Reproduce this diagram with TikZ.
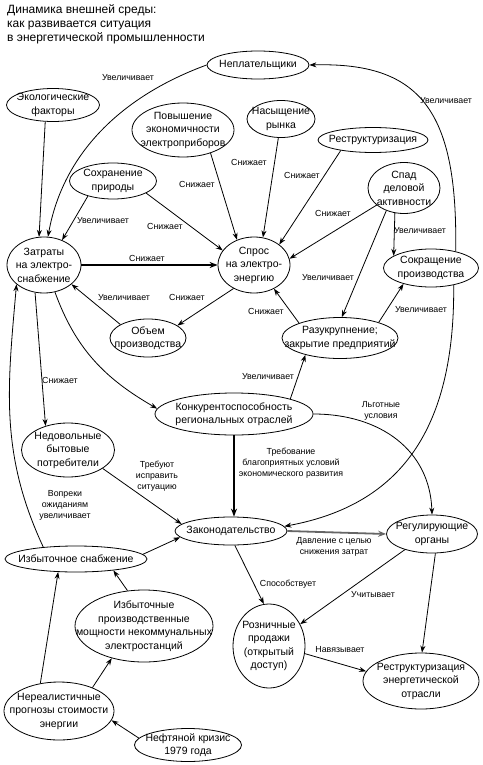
\documentclass[tikz,border=0pt]{standalone}
\usepackage{fontspec}
\setmainfont{Liberation Sans}
\usetikzlibrary{arrows.meta,shapes.geometric}
\begin{document}
\begin{tikzpicture}[x=1pt,y=-1pt,
  ell/.style={draw, ellipse, line width=0.8pt, inner sep=0pt},
  ntext/.style={font=\fontsize{10.5}{13.5}\selectfont, align=center, inner sep=0pt},
  lbl/.style={font=\fontsize{8.8}{11}\selectfont, align=center, inner sep=0pt},
  ttl/.style={font=\fontsize{12}{14}\selectfont, align=left, inner sep=0pt, anchor=north west},
  arr/.style={-{Stealth[length=7pt,width=5pt]}, line width=0.8pt},
  thk/.style={-{Stealth[length=8pt,width=6pt]}, line width=1.8pt},
]
\fill[white] (0,0) rectangle (482,765);
\useasboundingbox (0,0) rectangle (482,765);

\node[ttl] (title) at (7,4) {Динамика внешней среды:\\как развивается ситуация\\в энергетической промышленности};

% nodes
\node[ell, minimum width=102, minimum height=28, label={[ntext]center:Неплательщики}] (nepl) at (258,65) {};
\node[ell, minimum width=93, minimum height=33, label={[ntext]center:{Экологические\\факторы}}] (eco) at (53,105) {};
\node[ell, minimum width=102, minimum height=54, label={[ntext]center:{Повышение\\экономичности\\электроприборов}}] (povysh) at (183,130) {};
\node[ell, minimum width=68, minimum height=37, label={[ntext]center:{Насыщение\\рынка}}] (nasysh) at (281,119) {};
\node[ell, minimum width=110, minimum height=25, label={[ntext]center:Реструктуризация}] (restr) at (373,140) {};
\node[ell, minimum width=87, minimum height=36, label={[ntext]center:{Сохранение\\природы}}] (sohr) at (113,181) {};
\node[ell, minimum width=72, minimum height=51, label={[ntext]center:{Спад\\деловой\\активности}}] (spad) at (404,188) {};
\node[ell, minimum width=74, minimum height=56, label={[ntext]center:{Затраты\\на электро-\\снабжение}}] (zatr) at (44,265) {};
\node[ell, minimum width=72, minimum height=56, label={[ntext]center:{Спрос\\на электро-\\энергию}}] (spros) at (254,265) {};
\node[ell, minimum width=95, minimum height=38, label={[ntext]center:{Сокращение\\производства}}] (sokr) at (431,268) {};
\node[ell, minimum width=76, minimum height=38, label={[ntext]center:{Объем\\производства}}] (obem) at (148,338) {};
\node[ell, minimum width=116, minimum height=41, label={[ntext]center:{Разукрупнение;\\закрытие предприятий}}] (razuk) at (340,338) {};
\node[ell, minimum width=158, minimum height=42, label={[ntext]center:{Конкурентоспособность\\региональных отраслей}}] (konk) at (234,414) {};
\node[ell, minimum width=93, minimum height=54, label={[ntext]center:{Недовольные\\бытовые\\потребители}}] (nedov) at (68,450) {};
\node[ell, minimum width=112, minimum height=28, label={[ntext]center:Законодательство}] (zakon) at (231,531) {};
\node[ell, minimum width=91, minimum height=38, label={[ntext]center:{Регулирующие\\органы}}] (regul) at (432,534) {};
\node[ell, minimum width=142, minimum height=26, label={[ntext]center:Избыточное снабжение}] (izbsn) at (76,559) {};
\node[ell, minimum width=138, minimum height=72, label={[ntext]center:{Избыточные\\производственные\\мощности некоммунальных\\электростанций}}] (izbmosh) at (144,626) {};
\node[ell, minimum width=72, minimum height=84, label={[ntext]center:{Розничные\\продажи\\(открытый\\доступ)}}] (rozn) at (269,646) {};
\node[ell, minimum width=116, minimum height=56, label={[ntext]center:{Реструктуризация\\энергетической\\отрасли}}] (restren) at (421,681) {};
\node[ell, minimum width=110, minimum height=58, label={[ntext]center:{Нереалистичные\\прогнозы стоимости\\энергии}}] (nereal) at (59,711) {};
\node[ell, minimum width=107, minimum height=33, label={[ntext]center:{Нефтяной кризис\\1979 года}}] (neft) at (188,745) {};

% connectors
\draw[arr] (nepl.west) .. controls (122,96) and (63,153) .. (zatr.82)
  node[lbl, at={(128,78)}] (l1) {Увеличивает};
\draw[arr] (eco.245) -- (zatr.100);
\draw[arr] (sohr.211) -- (zatr.54) node[lbl, at={(103,221)}] (l2) {Увеличивает};
\draw[arr] (sohr.-20) -- (spros.155) node[lbl, at={(165,226)}] (l3) {Снижает};
\draw[arr] (povysh.-40) -- (spros.124) node[lbl, at={(197,184)}] (l4) {Снижает};
\draw[arr] (nasysh.262) -- (spros.72) node[lbl, at={(249,162)}] (l5) {Снижает};
\draw[arr] (restr.198) -- (spros.39) node[lbl, at={(302,175)}] (l6) {Снижает};
\draw[arr] (spad.212) -- (spros.10) node[lbl, at={(333,213)}] (l7) {Снижает};
\draw[thk] (zatr) -- (spros) node[lbl, at={(147,258)}] (l8) {Снижает};
\draw[arr] (spros.229) -- (obem.23) node[lbl, at={(187,297)}] (l9) {Снижает};
\draw[arr] (obem.154) -- (zatr.-35) node[lbl, at={(124,298)}] (l10) {Увеличивает};
\draw[arr] (zatr.252) -- (nedov.133) node[lbl, at={(60,380)}] (l11) {Снижает};
\draw[arr] (zatr.292) to[out=-70,in=150] (konk.176);
\draw[arr] (izbsn.160) to[out=115,in=-95] (zatr.215)
  node[lbl, at={(65,505)}] (l12) {Вопреки\\ожиданиям\\увеличивает};
\draw[arr] (nedov.-28) -- (zakon.172) node[lbl, at={(157,476)}] (l13) {Требуют\\исправить\\ситуацию};
\draw[arr] (izbsn.4) -- (zakon.187);
\draw[thk] (konk.south) -- (konk.south |- zakon.north)
  node[lbl, at={(291,463)}] (l14) {Требование\\благоприятных условий\\экономического развития};
\draw[arr] (konk.15) -- (razuk.206) node[lbl, at={(268,377)}] (l15) {Увеличивает};
\draw[arr] (konk.east) .. controls (380,414) and (430,450) .. (regul.north)
  node[lbl, at={(381,411)}] (l16) {Льготные\\условия};
\draw[arr] (sokr.-37) .. controls (455,430) and (400,505) .. (zakon.5);
\draw[arr] (sokr.34) .. controls (458,110) and (420,62) .. (nepl.east)
  node[lbl, at={(446,101)}] (l17) {Увеличивает};
\draw[arr] (spad.250) -- (sokr.162) node[lbl, at={(420,231)}] (l18) {Увеличивает};
\draw[arr] (spad.232) -- (razuk.85) node[lbl, at={(328,278)}] (l19) {Увеличивает};
\draw[arr] (razuk.22) -- (sokr.210) node[lbl, at={(421,310)}] (l20) {Увеличивает};
\draw[arr] (razuk.160) -- (spros.-50) node[lbl, at={(266,311)}] (l21) {Снижает};
\draw[thk, draw=black!60] (zakon.east) -- (regul.west)
  node[lbl, at={(334,547)}] (l22) {Давление с целью\\снижения затрат};
\draw[arr] (zakon.-75) -- (rozn.97) node[lbl, at={(288,584)}] (l23) {Способствует};
\draw[arr] (regul.210) -- (rozn.35) node[lbl, at={(373,595)}] (l24) {Учитывает};
\draw[arr] (regul.-80) -- (restren.88);
\draw[arr] (rozn.-12) -- (restren.170) node[lbl, at={(340,650)}] (l25) {Навязывает};
\draw[arr] (izbmosh.115) -- (izbsn.-17);
\draw[arr] (nereal.124) -- (izbsn.216);
\draw[arr] (nereal.35) -- (izbmosh.225);
\draw[arr] (neft.172) -- (nereal.-10);
\end{tikzpicture}
\end{document}
